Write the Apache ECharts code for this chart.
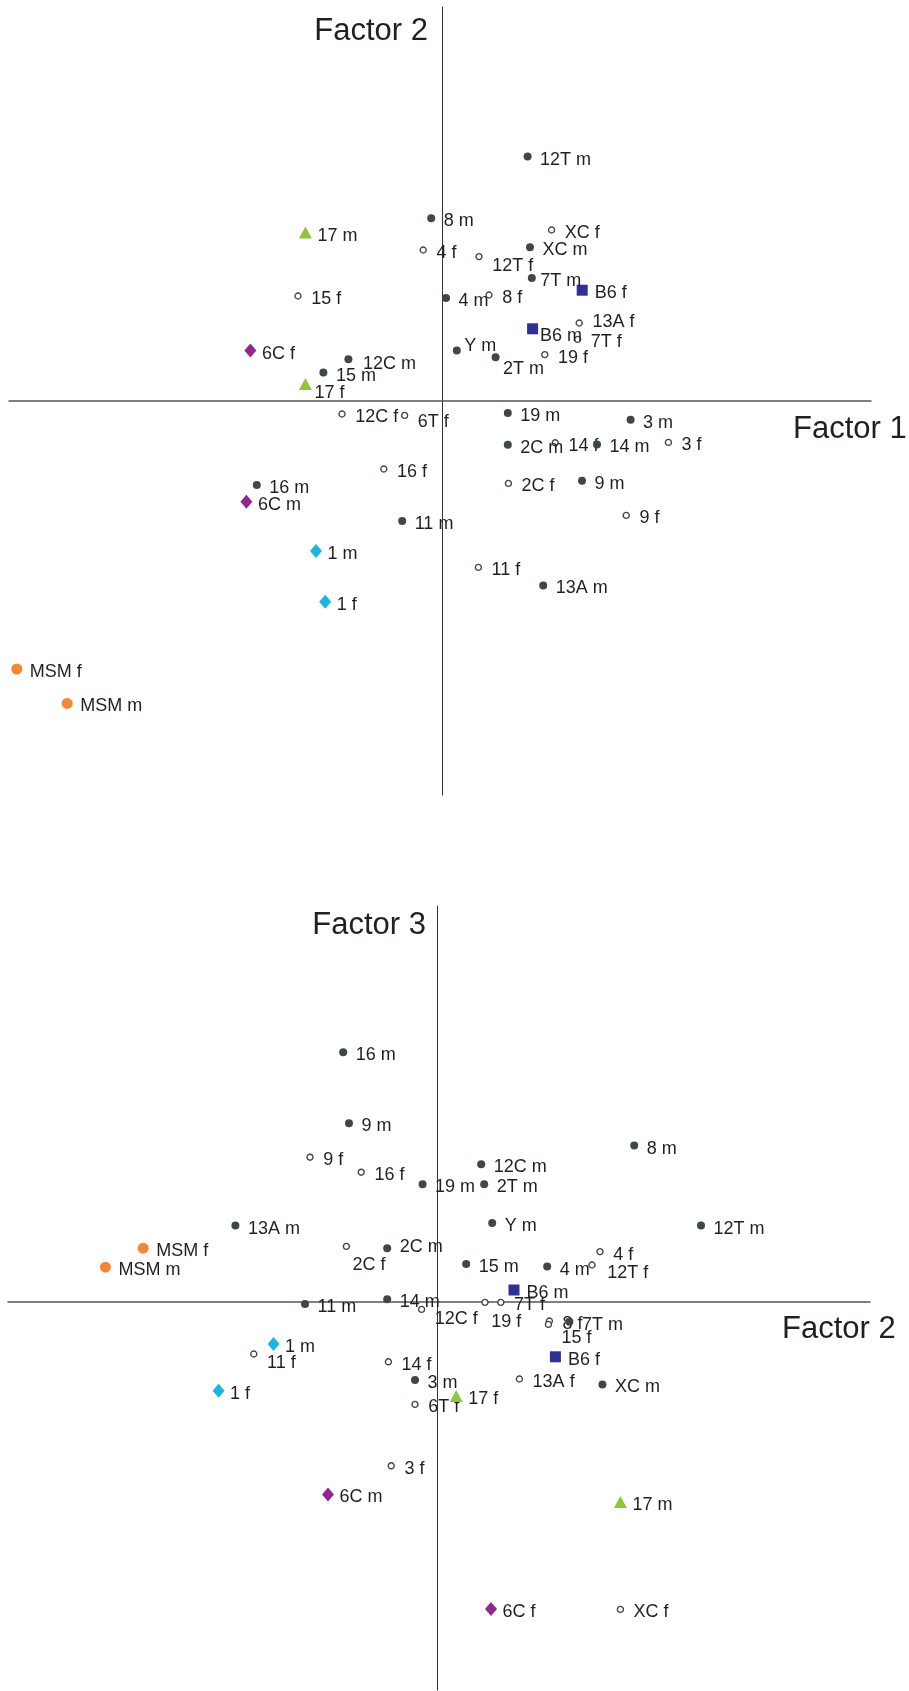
<!DOCTYPE html>
<html>
<head>
<meta charset="utf-8">
<script src="https://cdn.jsdelivr.net/npm/echarts@6/dist/echarts.min.js"></script>
<style>
html,body{margin:0;padding:0;background:#fff;}
#chart{width:909px;height:1691px;}
</style>
</head>
<body>
<div id="chart"></div>
<script>
// ---- Top plot: Factor 1 (x) vs Factor 2 (y) ----
const topLabels = ["12T m","8 m","XC m","7T m","4 m","Y m","2T m","12C m","15 m","19 m","3 m","2C m","14 m","16 m","9 m","11 m","13A m",
  "XC f","4 f","12T f","15 f","8 f","13A f","7T f","19 f","12C f","6T f","14 f","3 f","16 f","2C f","9 f","11 f",
  "B6 f","B6 m","17 m","17 f","6C f","6C m","1 m","1 f","MSM f","MSM m"];
const topFactor1 = [0.428,-0.054,0.44,0.449,0.02,0.074,0.268,-0.468,-0.593,0.329,0.943,0.329,0.775,-0.926,0.70,-0.199,0.506,
  0.548,-0.094,0.185,-0.72,0.235,0.686,0.678,0.514,-0.50,-0.187,0.566,1.132,-0.291,0.332,0.921,0.182,
  0.701,0.453,-0.683,-0.683,-0.958,-0.978,-0.63,-0.584,-2.126,-1.874];
const topFactor2 = [1.222,0.914,0.769,0.615,0.515,0.253,0.219,0.209,0.142,-0.06,-0.094,-0.219,-0.217,-0.42,-0.399,-0.60,-0.922,
  0.855,0.755,0.722,0.525,0.53,0.39,0.308,0.232,-0.065,-0.072,-0.209,-0.207,-0.34,-0.412,-0.572,-0.832,
  0.554,0.361,0.842,0.085,0.252,-0.504,-0.75,-1.004,-1.34,-1.512];

// ---- Bottom plot: Factor 2 (x) vs Factor 3 (y) ----
const botLabels = ["16 m","9 m","8 m","12C m","19 m","2T m","13A m","Y m","12T m","2C m","15 m","4 m","14 m","11 m","7T m","3 m","XC m",
  "9 f","16 f","2C f","4 f","12T f","12C f","19 f","7T f","8 f","15 f","11 f","14 f","13A f","6T f","3 f","XC f",
  "B6 m","B6 f","17 f","17 m","6C m","6C f","1 m","1 f","MSM f","MSM m"];
const botFactor2 = [-0.469,-0.44,0.986,0.221,-0.072,0.236,-1.008,0.276,1.32,-0.249,0.146,0.551,-0.249,-0.66,0.662,-0.11,0.827,
  -0.635,-0.379,-0.453,0.815,0.775,-0.077,0.24,0.319,0.562,0.557,-0.916,-0.243,0.412,-0.11,-0.229,0.917,
  0.385,0.592,0.096,0.917,-0.545,0.27,-0.817,-1.092,-1.469,-1.658];
const botFactor3 = [1.249,0.894,0.782,0.689,0.589,0.589,0.382,0.395,0.382,0.269,0.19,0.177,0.014,-0.01,-0.099,-0.39,-0.412,
  0.724,0.649,0.278,0.252,0.185,-0.037,-0.002,-0.002,-0.095,-0.112,-0.26,-0.299,-0.385,-0.512,-0.819,-1.537,
  0.06,-0.274,-0.47,-1.0,-0.962,-1.535,-0.21,-0.444,0.269,0.174];

const axisTitles = ["Factor 1","Factor 2","Factor 2","Factor 3"];

// ---- styles (not data) ----
const TXT = '#231f20';
const FONT = '"Liberation Sans", Arial, Helvetica, sans-serif';
const groupStyle = {
  m:   {symbol:'circle', size:8, color:'#3f4849', border:null, dist:8.5},
  f:   {symbol:'circle', size:6, color:'#ffffff', border:'#3f4849', dist:9.5},
  B6:  {symbol:'rect', size:11, color:'#2e3192', border:null, dist:7},
  '17':{symbol:'triangle', size:[13,12], color:'#8dc63f', border:null, dist:5.5},
  '6C':{symbol:'diamond', size:[12,14], color:'#92278f', border:null, dist:5.5},
  '1': {symbol:'diamond', size:[12,14], color:'#1cb5e0', border:null, dist:5.5},
  MSM: {symbol:'circle', size:11, color:'#f58634', border:null, dist:7.5}
};
const topLabelShift = {"12T f":[0,7],"13A f":[0,-3],"B6 m":[-5,5],"Y m":[-5,-6],"2T m":[-5,10],"12C m":[2,3],
  "17 f":[-3,7],"7T m":[-4,1],"6T f":[0,5]};
const botLabelShift = {"2C f":[-7,17],"2C m":[0,-3],"12T f":[2,6],"12C f":[0,8],"19 f":[-7,18],"15 f":[0,12],"11 f":[0,7]};

function groupOf(label){
  const strain = label.split(' ')[0];
  if (['B6','17','6C','1','MSM'].includes(strain)) return strain;
  return label.slice(-1);
}

function buildSeries(labels, xs, ys, shifts, idx){
  const groups = {};
  labels.forEach((lab,i)=>{
    const g = groupOf(lab);
    const s = shifts[lab] || [0,1];
    (groups[g] = groups[g] || []).push({
      name: lab, value: [xs[i], ys[i]],
      label: {offset: [s[0], s[1] + 2]}
    });
  });
  return Object.keys(groups).map(g=>{
    const st = groupStyle[g];
    return {
      type:'scatter', xAxisIndex:idx, yAxisIndex:idx,
      symbol: st.symbol, symbolSize: st.size,
      itemStyle: {color: st.color, borderColor: st.border || st.color, borderWidth: st.border ? 1.4 : 0, opacity:1},
      label: {show:true, position:'right', distance: st.dist, formatter:'{b}', color:TXT,
              fontSize:18, fontFamily:FONT},
      emphasis:{disabled:true},
      data: groups[g],
      z: g==='f' ? 3 : 4
    };
  });
}

function axisX(min,max,idx){
  return {type:'value', gridIndex:idx, min:min, max:max,
    axisLine:{show:true, onZero:true, lineStyle:{color:'#555', width:1.5}},
    axisTick:{show:false}, axisLabel:{show:false}, splitLine:{show:false}};
}
function axisY(min,max,idx){
  return {type:'value', gridIndex:idx, min:min, max:max,
    axisLine:{show:true, onZero:true, lineStyle:{color:'#333', width:1}},
    axisTick:{show:false}, axisLabel:{show:false}, splitLine:{show:false}};
}

const chart = echarts.init(document.getElementById('chart'), null, {renderer:'canvas'});
chart.setOption({
  animation:false,
  backgroundColor:'#fff',
  grid:[
    {left:9, top:7, width:862, height:788},
    {left:8, top:906, width:862, height:784}
  ],
  xAxis:[axisX(-2.165,2.145,0), axisX(-2.145,2.165,1)],
  yAxis:[axisY(-1.97,1.97,0), axisY(-1.94,1.98,1)],
  series: buildSeries(topLabels, topFactor1, topFactor2, topLabelShift, 0)
          .concat(buildSeries(botLabels, botFactor2, botFactor3, botLabelShift, 1)),
  graphic:[
    {type:'text', left:793, top:414, style:{text:axisTitles[0], fill:TXT, font:'31px '+FONT}},
    {type:'text', right:909-428, top:16, style:{text:axisTitles[1], fill:TXT, font:'31px '+FONT}},
    {type:'text', left:782, top:1314, style:{text:axisTitles[2], fill:TXT, font:'31px '+FONT}},
    {type:'text', right:909-426, top:910, style:{text:axisTitles[3], fill:TXT, font:'31px '+FONT}}
  ]
});
</script>
</body>
</html>
